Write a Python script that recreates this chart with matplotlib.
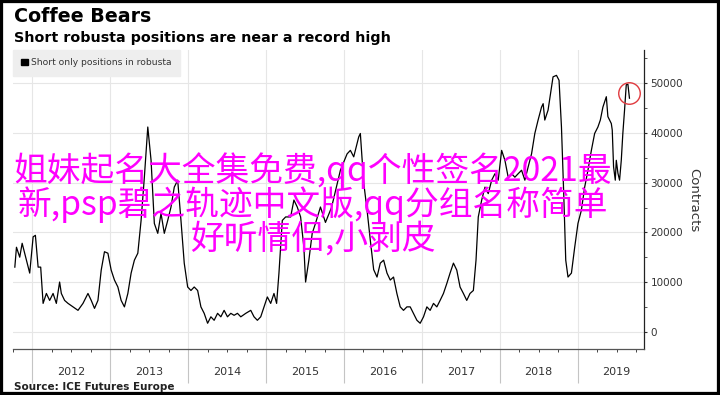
import numpy as np
import matplotlib
matplotlib.use('Agg')
import matplotlib.pyplot as plt
import matplotlib.patches as patches
import matplotlib.transforms as mtransforms

# short only positions in robusta (contracts)
years = [
    2011.774, 2011.795, 2011.837, 2011.868, 2011.923, 2011.965, 2012.009, 2012.038, 2012.073, 2012.106,
    2012.137, 2012.179, 2012.221, 2012.265, 2012.307, 2012.349, 2012.371, 2012.413, 2012.457, 2012.521,
    2012.585, 2012.649, 2012.713, 2012.755, 2012.797, 2012.841, 2012.883, 2012.925, 2012.969, 2013.011,
    2013.053, 2013.097, 2013.139, 2013.181, 2013.225, 2013.267, 2013.309, 2013.353, 2013.395, 2013.437,
    2013.481, 2013.523, 2013.565, 2013.609, 2013.651, 2013.693, 2013.737, 2013.779, 2013.821, 2013.865,
    2013.907, 2013.949, 2013.993, 2014.035, 2014.077, 2014.121, 2014.163, 2014.205, 2014.249, 2014.291,
    2014.333, 2014.377, 2014.419, 2014.461, 2014.504, 2014.547, 2014.589, 2014.632, 2014.675, 2014.739,
    2014.803, 2014.845, 2014.888, 2014.931, 2014.973, 2015.016, 2015.059, 2015.101, 2015.135, 2015.165,
    2015.208, 2015.251, 2015.315, 2015.357, 2015.400, 2015.443, 2015.485, 2015.507, 2015.549, 2015.592,
    2015.634, 2015.698, 2015.762, 2015.840, 2015.954, 2016.040, 2016.082, 2016.125, 2016.189, 2016.210,
    2016.253, 2016.296, 2016.338, 2016.381, 2016.424, 2016.466, 2016.509, 2016.552, 2016.594, 2016.636,
    2016.679, 2016.722, 2016.764, 2016.808, 2016.850, 2016.892, 2016.936, 2016.978, 2017.021, 2017.064,
    2017.106, 2017.149, 2017.192, 2017.234, 2017.277, 2017.320, 2017.362, 2017.405, 2017.448, 2017.490,
    2017.533, 2017.576, 2017.618, 2017.661, 2017.695, 2017.724, 2017.768, 2017.810, 2017.852, 2017.896,
    2017.938, 2017.980, 2018.024, 2018.066, 2018.108, 2018.152, 2018.194, 2018.236, 2018.280, 2018.322,
    2018.365, 2018.408, 2018.450, 2018.492, 2018.536, 2018.557, 2018.578, 2018.620, 2018.664, 2018.684,
    2018.728, 2018.761, 2018.792, 2018.821, 2018.847, 2018.876, 2018.920, 2018.962, 2019.004, 2019.047,
    2019.090, 2019.132, 2019.176, 2019.218, 2019.260, 2019.291, 2019.324, 2019.368, 2019.388, 2019.432,
    2019.444, 2019.461, 2019.483, 2019.496, 2019.517, 2019.538, 2019.560, 2019.580, 2019.602, 2019.624,
    2019.645, 2019.665,
]
contracts = [
    13000, 17000, 15000, 17800, 14400, 11800, 19100, 19400, 13000, 13000,
    5700, 7700, 6300, 7700, 5700, 10000, 7700, 6300, 5700, 5000,
    4300, 5700, 7700, 6300, 4700, 6300, 12400, 16100, 15800, 12400,
    10400, 9000, 6300, 5000, 7700, 11800, 14400, 15800, 22400, 31100,
    41200, 34500, 21800, 19800, 23800, 19800, 22400, 25100, 29100, 30500,
    22400, 13800, 9000, 8300, 9000, 8300, 5000, 3700, 1700, 3000,
    2300, 3700, 3000, 4300, 3000, 3700, 3300, 3700, 3000, 3700,
    4300, 3000, 2300, 3000, 5000, 7000, 5700, 7700, 5700, 11800,
    22400, 23100, 23100, 26500, 25100, 23100, 17000, 10000, 14400, 19800,
    21800, 25100, 22000, 25000, 32500, 35800, 36500, 35200, 39200, 39900,
    30000, 24500, 18400, 12500, 11000, 13800, 14400, 11800, 10400, 11000,
    7700, 5000, 4300, 5000, 5000, 3700, 2300, 1700, 3000, 5000,
    4300, 5700, 5000, 6300, 7700, 9700, 11800, 13800, 12400, 9000,
    7700, 6300, 7700, 8300, 14400, 23100, 26500, 29100, 27800, 30500,
    31800, 30500, 36500, 34500, 31100, 31800, 31100, 31800, 32500, 30500,
    33200, 35800, 39900, 42600, 45200, 45900, 42600, 44600, 49300, 51300,
    51600, 50600, 41200, 27800, 14400, 11000, 11800, 17000, 21800, 24400,
    29100, 32500, 36500, 39900, 41200, 42600, 45200, 47300, 43300, 41900,
    40600, 33200, 30500, 34500, 31900, 30500, 34500, 39900, 44600, 49700,
    49800, 47000,
]
year_labels = [2012, 2013, 2014, 2015, 2016, 2017, 2018, 2019]
y_ticks = [0, 10000, 20000, 30000, 40000, 50000]

overlay = "姐妹起名大全集免费,qq个性签名2021最\n新,psp碧之轨迹中文版,qq分组名称简单\n好听情侣,小剥皮"

fig = plt.figure(figsize=(7.2, 3.95), dpi=100)
ax = fig.add_axes([0.018, 0.1157, 0.8768, 0.7577])

ax.plot(years, contracts, color='black', lw=0.9, zorder=3)

ax.set_xlim(2011.76, 2019.855)
ax.set_ylim(-3540, 56700)

# x axis: year boundaries as long grey ticks, quarters as small ticks
ax.set_xticks(year_labels)
ax.set_xticklabels([])
ax.set_xticks(np.arange(2011.75, 2019.9, 0.25), minor=True)
ax.tick_params(axis='x', which='major', length=24.5, width=0.8, color='#c4c4c4', direction='out')
ax.tick_params(axis='x', which='minor', length=2.2, width=0.7, color='#444444', direction='out')
tr = mtransforms.blended_transform_factory(ax.transData, ax.transAxes)
for yr in year_labels:
    ax.text(yr + 0.5, -0.076, str(yr), transform=tr, ha='center', va='center',
            fontsize=8, color='#333333')

# y axis on the right
ax.yaxis.tick_right()
ax.yaxis.set_label_position('right')
ax.set_yticks(y_ticks)
ax.set_yticks(np.arange(5000, 56000, 10000), minor=True)
ax.tick_params(axis='y', which='major', length=2.5, width=0.8, color='#333333', pad=2,
               labelsize=7.5, labelcolor='#333333')
ax.tick_params(axis='y', which='minor', length=1.8, width=0.7, color='#555555')
ax.set_ylabel('Contracts', rotation=270, fontsize=9.5, color='#333333', labelpad=12)

ax.grid(True, which='major', color='#e6e6e6', lw=0.8)
ax.set_axisbelow(True)
for s in ['left', 'top']:
    ax.spines[s].set_visible(False)
ax.spines['right'].set_color('#222222')
ax.spines['right'].set_linewidth(0.9)
ax.spines['bottom'].set_color('#555555')
ax.spines['bottom'].set_linewidth(0.9)

# legend
h = patches.Patch(facecolor='black', edgecolor='black', label='Short only positions in robusta')
leg = ax.legend(handles=[h], loc='upper left', borderaxespad=0, fontsize=6.6,
                handlelength=0.75, handleheight=0.75, handletextpad=0.35,
                borderpad=0.9, fancybox=False, framealpha=1, facecolor='#eeeeee',
                edgecolor='#eeeeee')
for t in leg.get_texts():
    t.set_color('#333333')

# red circle around the latest peak
last = [i for i, y in enumerate(years) if y > 2019.5]
ipk = last[int(np.argmax([contracts[i] for i in last]))]
circ_tr = mtransforms.offset_copy(ax.transData, fig=fig, x=1.0, y=-8.5, units='dots')
ax.plot(years[ipk], contracts[ipk], 'o', ms=15.5, mfc='none', mec='#e0393e', mew=1.0,
        transform=circ_tr, zorder=4)

# titles and source
fig.text(0.019, 0.958, 'Coffee Bears', fontsize=13.7, fontweight='bold', ha='left', va='center')
fig.text(0.019, 0.905, 'Short robusta positions are near a record high', fontsize=10.25,
         fontweight='bold', ha='left', va='center')
fig.text(0.020, 0.021, 'Source: ICE Futures Europe', fontsize=7.5, fontweight='bold',
         ha='left', va='center', color='#222222')

# overlay text
fig.text(313 / 720, 1 - 204 / 395, overlay, ha='center', va='center', fontsize=24.3,
         color='#ff00ff', family=['Noto Sans CJK SC', 'DejaVu Sans'], linespacing=0.93,
         zorder=10)

# black frame
fig.patches.append(patches.Rectangle((0, 0), 1, 1, transform=fig.transFigure, fill=False,
                                     edgecolor='black', linewidth=4.5))

fig.savefig('out.png', dpi=100)
